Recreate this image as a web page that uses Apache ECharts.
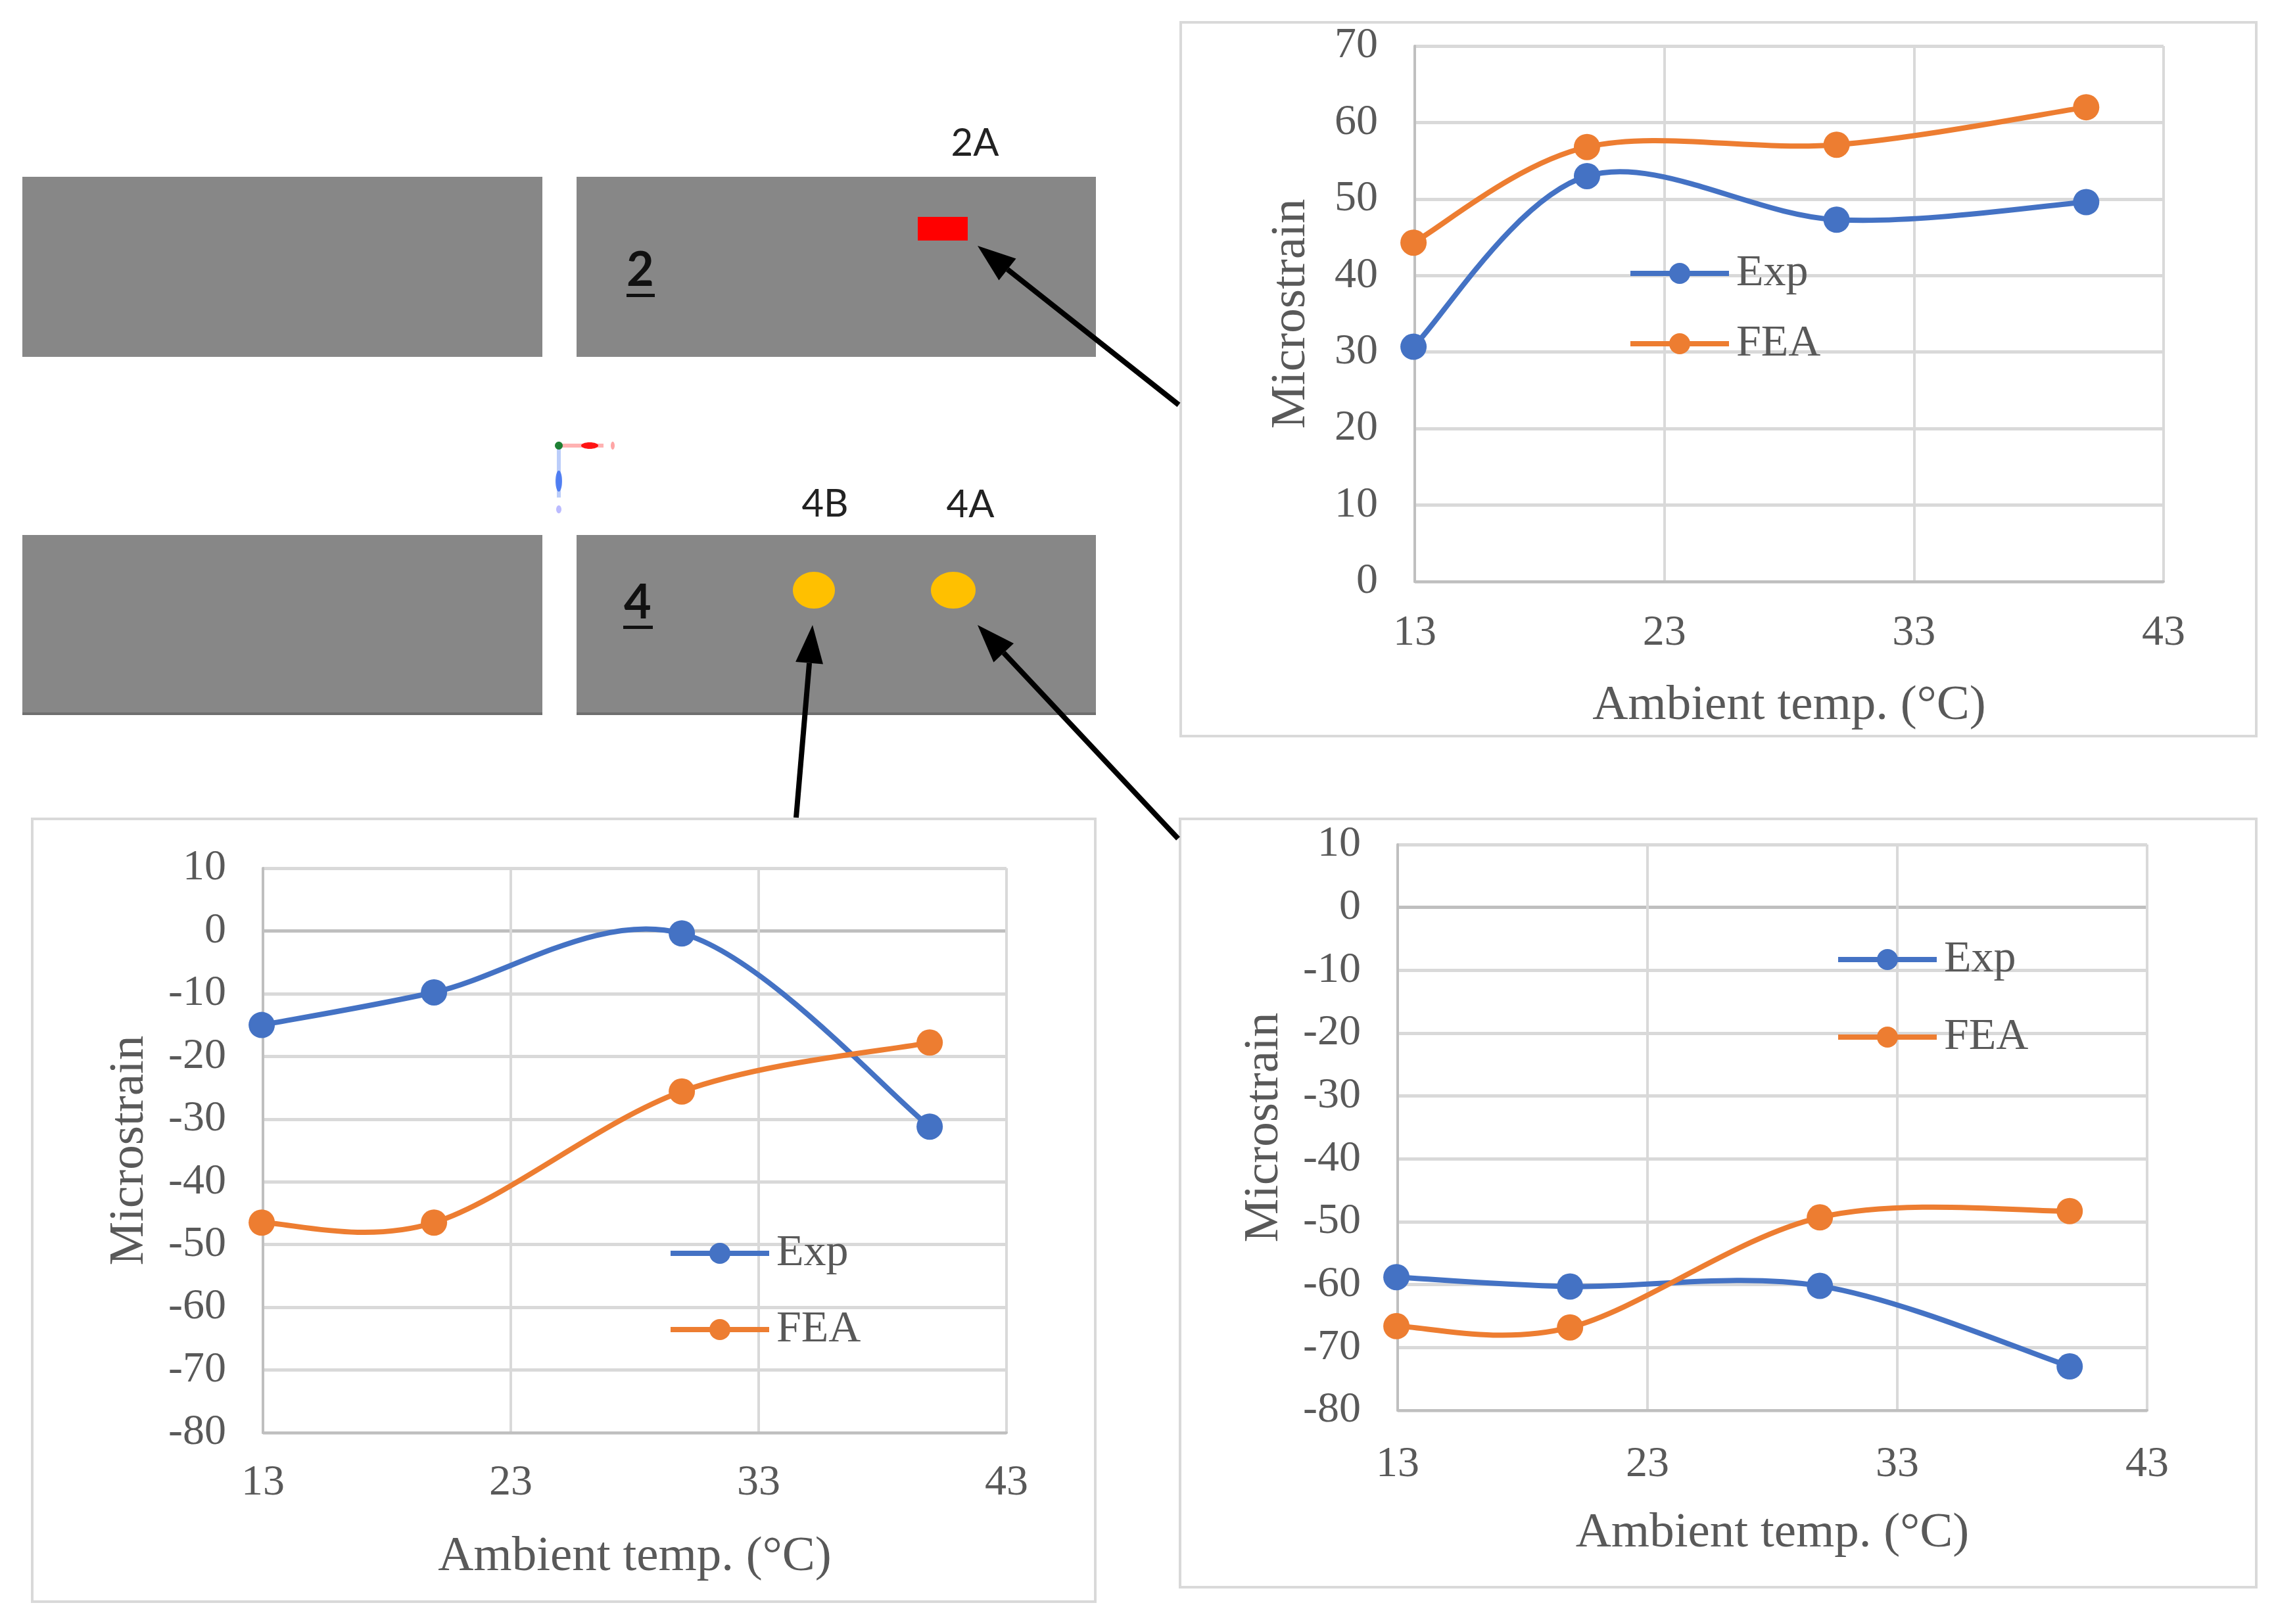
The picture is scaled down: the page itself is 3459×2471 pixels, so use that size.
<!DOCTYPE html>
<html>
<head>
<meta charset="utf-8">
<title>Microstrain</title>
<script src="https://cdn.jsdelivr.net/npm/echarts@6/dist/echarts.min.js"></script>
<style>
  html, body { margin: 0; padding: 0; background: #fff; }
  #chart { width: 3459px; height: 2471px; }
</style>
</head>
<body>
<div id="chart"></div>
<script>
// values
const temps = [12.95, 19.9, 29.9, 39.9];
const xTicks = [13, 23, 33, 43];
const exp2A = [30.7, 53, 47.3, 49.6];
const fea2A = [44.3, 56.8, 57.1, 62];
const exp4B = [-15, -9.8, -0.4, -31.2];
const fea4B = [-46.5, -46.5, -25.6, -17.8];
const exp4A = [-58.8, -60.3, -60.2, -73];
const fea4A = [-66.6, -66.8, -49.3, -48.3];

const BLUE = '#4472C4';
const ORANGE = '#ED7D31';
const GRID = '#D9D9D9';
const TEXT = '#595959';
const SERIF = '"Liberation Serif", serif';

// one panel = grid, axes, two series and a legend
const panels = [
  { exp: exp2A, fea: fea2A, min: 0, max: 70, plot: [2152, 70, 3291, 885], legend: [2476, 382], gap: 39, xMargin: 46, xName: 152, yName: 150 },
  { exp: exp4B, fea: fea4B, min: -80, max: 10, plot: [400, 1321, 1531, 2180], legend: [1016, 1873], gap: 48, xMargin: 44, xName: 152, yName: 165 },
  { exp: exp4A, fea: fea4A, min: -80, max: 10, plot: [2126, 1285, 3266, 2146], legend: [2792, 1426], gap: 50, xMargin: 50, xName: 150, yName: 165 }
];

function pairs(ys) {
  return temps.map((t, i) => [t, ys[i]]);
}

// markers only; the legend draws its own line
function pointSeries(name, color, ys, idx) {
  return {
    name: name,
    type: 'line',
    xAxisIndex: idx,
    yAxisIndex: idx,
    data: pairs(ys),
    clip: false,
    symbol: 'circle',
    symbolSize: 40,
    lineStyle: { color: color, width: 8, opacity: 0 },
    itemStyle: { color: color },
    z: 5
  };
}

// spreadsheet style smoothing, it overshoots the points unlike smooth: true
function renderCurve(color, points) {
  return function (params, api) {
    const i = params.dataIndex;
    if (i >= points.length - 1) return null;
    const p1 = api.coord(points[i]);
    const p2 = api.coord(points[i + 1]);
    const p0 = i > 0 ? api.coord(points[i - 1]) : p1;
    const p3 = i < points.length - 2 ? api.coord(points[i + 2]) : p2;
    return {
      type: 'bezierCurve',
      shape: {
        x1: p1[0], y1: p1[1],
        x2: p2[0], y2: p2[1],
        cpx1: p1[0] + (p2[0] - p0[0]) / 6,
        cpy1: p1[1] + (p2[1] - p0[1]) / 6,
        cpx2: p2[0] - (p3[0] - p1[0]) / 6,
        cpy2: p2[1] - (p3[1] - p1[1]) / 6
      },
      style: { stroke: color, lineWidth: 8, fill: 'none' }
    };
  };
}

function curveSeries(name, color, ys, idx) {
  const points = pairs(ys);
  return {
    name: name + ' curve',
    type: 'custom',
    xAxisIndex: idx,
    yAxisIndex: idx,
    data: points,
    encode: { x: 0, y: 1 },
    renderItem: renderCurve(color, points),
    z: 4
  };
}

// zero line is a bit darker in the negative panels
function splitColors(min, max) {
  const out = [];
  for (let v = min; v <= max; v += 10) {
    out.push(v === 0 && min < 0 ? '#BFBFBF' : GRID);
  }
  return out;
}

const grids = [], xAxes = [], yAxes = [], legends = [], series = [];
panels.forEach((p, i) => {
  grids.push({ left: p.plot[0], top: p.plot[1], width: p.plot[2] - p.plot[0], height: p.plot[3] - p.plot[1] });
  xAxes.push({
    type: 'value',
    gridIndex: i,
    min: 13,
    max: 43,
    name: 'Ambient temp. (°C)',
    nameLocation: 'middle',
    nameGap: p.xName,
    nameMoveOverlap: false,
    nameTextStyle: { fontFamily: SERIF, fontSize: 75, color: TEXT },
    axisLine: { onZero: false, lineStyle: { color: '#BFBFBF', width: 4 } },
    axisTick: { show: false, customValues: xTicks },
    axisLabel: { customValues: xTicks, margin: p.xMargin, fontFamily: SERIF, fontSize: 66, color: TEXT, hideOverlap: false },
    splitLine: { show: true, lineStyle: { color: GRID, width: 4 } }
  });
  yAxes.push({
    type: 'value',
    gridIndex: i,
    min: p.min,
    max: p.max,
    interval: 10,
    name: 'Microstrain',
    nameLocation: 'middle',
    nameGap: p.yName,
    nameMoveOverlap: false,
    nameTextStyle: { fontFamily: SERIF, fontSize: 75, color: TEXT },
    axisLine: { show: true, lineStyle: { color: '#BFBFBF', width: 4 } },
    axisTick: { show: false },
    axisLabel: { margin: 56, fontFamily: SERIF, fontSize: 66, color: TEXT },
    splitLine: { show: true, lineStyle: { color: splitColors(p.min, p.max), width: 5 } }
  });
  legends.push({
    left: p.legend[0],
    top: p.legend[1],
    orient: 'vertical',
    data: ['Exp', 'FEA'],
    itemWidth: 150,
    itemHeight: 40,
    itemGap: p.gap,
    padding: 0,
    lineStyle: { width: 8, opacity: 1 },
    textStyle: { fontFamily: SERIF, fontSize: 68, color: TEXT, padding: [0, 0, 0, 6] }
  });
  series.push(curveSeries('Exp', BLUE, p.exp, i));
  series.push(curveSeries('FEA', ORANGE, p.fea, i));
  series.push(pointSeries('Exp', BLUE, p.exp, i));
  series.push(pointSeries('FEA', ORANGE, p.fea, i));
});

// the schematic around the charts
function box(x1, y1, x2, y2, fill, stroke) {
  return {
    type: 'rect', z: -1,
    shape: { x: x1, y: y1, width: x2 - x1, height: y2 - y1 },
    style: { fill: fill, stroke: stroke || null, lineWidth: stroke ? 4 : 0 }
  };
}

function oval(cx, cy, rx, ry, color, opacity) {
  return {
    type: 'ellipse', z: 2,
    shape: { cx: cx, cy: cy, rx: rx, ry: ry },
    style: { fill: color || '#FFC000', opacity: opacity === undefined ? 1 : opacity }
  };
}

function label(text, x, y, size, bold) {
  return {
    type: 'text', z: 2, x: x, y: y,
    style: {
      text: text, fill: bold ? '#111' : '#222',
      font: (bold ? 'bold ' : '') + size + 'px Lato, "Open Sans", sans-serif',
      align: 'center', verticalAlign: 'middle'
    }
  };
}

function arrow(x1, y1, x2, y2) {
  const len = Math.hypot(x2 - x1, y2 - y1);
  const ux = (x2 - x1) / len, uy = (y2 - y1) / len;
  const bx = x2 - ux * 58, by = y2 - uy * 58;
  return [
    { type: 'line', z: 3, shape: { x1: x1, y1: y1, x2: bx, y2: by }, style: { stroke: '#000', lineWidth: 8 } },
    {
      type: 'polygon', z: 3,
      shape: { points: [[x2, y2], [bx - uy * 21, by + ux * 21], [bx + uy * 21, by - ux * 21]] },
      style: { fill: '#000' }
    }
  ];
}

function stroke(x1, y1, x2, y2, color, width, opacity) {
  return { type: 'line', z: 1, shape: { x1: x1, y1: y1, x2: x2, y2: y2 }, style: { stroke: color, lineWidth: width, opacity: opacity } };
}

const graphics = [
  box(1796, 34, 3432, 1120, '#fff', GRID),
  box(49, 1246, 1666, 2437, '#fff', GRID),
  box(1795, 1246, 3432, 2415, '#fff', GRID),

  box(34, 269, 825, 543, '#878787'),
  box(877, 269, 1667, 543, '#878787'),
  box(34, 814, 825, 1088, '#878787'),
  box(877, 814, 1667, 1088, '#878787'),
  box(34, 1084, 825, 1088, '#6F6F6F'),
  box(877, 1084, 1667, 1088, '#6F6F6F'),

  Object.assign(box(1396, 330, 1472, 366, '#FF0000'), { z: 1 }),
  oval(1238, 898, 32, 28),
  oval(1450, 898, 34, 28),

  label('2A', 1483, 218, 58),
  label('4B', 1255, 767, 58),
  label('4A', 1476, 768, 58),
  label('2', 974, 412, 72, true),
  label('4', 970, 918, 72, true),
  Object.assign(box(953, 447, 996, 452, '#111'), { z: 2 }),
  Object.assign(box(948, 952, 993, 957, '#111'), { z: 2 }),

  // coordinate triad
  stroke(850, 678, 918, 678, '#FF0000', 6, 0.3),
  oval(897, 678, 13, 5, '#FF0000', 0.9),
  oval(932, 678, 3, 6, '#FF0000', 0.35),
  stroke(850, 678, 850, 757, '#3B6FF0', 6, 0.35),
  oval(850, 732, 5, 16, '#3B6FF0', 0.85),
  oval(850, 775, 4, 6, '#5555FF', 0.4),
  oval(850, 678, 6, 6, '#137A2A', 0.95)
].concat(
  arrow(1793, 616, 1487, 374),
  arrow(1211, 1244, 1236, 951),
  arrow(1792, 1276, 1487, 951)
);

const chart = echarts.init(document.getElementById('chart'));
chart.setOption({
  backgroundColor: '#fff',
  animation: false,
  grid: grids,
  xAxis: xAxes,
  yAxis: yAxes,
  legend: legends,
  series: series,
  graphic: graphics
});
</script>
</body>
</html>
